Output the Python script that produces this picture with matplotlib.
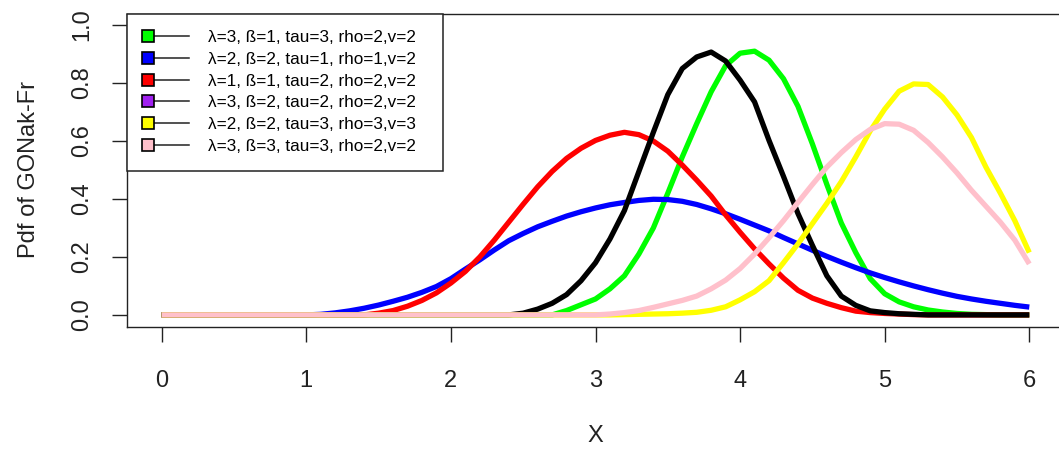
import matplotlib
matplotlib.use("Agg")
import matplotlib.pyplot as plt
import matplotlib.patches as mpatches
from matplotlib.legend_handler import HandlerBase
from matplotlib.lines import Line2D
import numpy as np

plt.rcParams['font.family'] = ['Liberation Sans', 'DejaVu Sans']

# pdf curves sampled every 0.1 on [0, 6]
x = np.linspace(0, 6, 61)

green_pdf = [0, 0, 0, 0, 0, 0, 0, 0, 0, 0,
             0, 0, 0, 0, 0, 0, 0, 0, 0, 0,
             0, 0, 0, 0, 0, 0, 0, 0, 0.015, 0.035,
             0.055, 0.09, 0.135, 0.21, 0.30, 0.42, 0.545, 0.66, 0.77, 0.86,
             0.903, 0.91, 0.879, 0.815, 0.72, 0.59, 0.45, 0.317, 0.215, 0.125,
             0.073, 0.045, 0.028, 0.017, 0.01, 0.005, 0.002, 0.001, 0, 0,
             0]
blue_pdf = [0, 0, 0, 0, 0, 0, 0, 0, 0, 0,
            0, 0.002, 0.007, 0.014, 0.023, 0.034, 0.047, 0.061, 0.078, 0.098,
            0.125, 0.158, 0.19, 0.224, 0.256, 0.281, 0.304, 0.323, 0.341, 0.356,
            0.369, 0.38, 0.388, 0.395, 0.399, 0.398, 0.392, 0.381, 0.366, 0.349,
            0.33, 0.31, 0.29, 0.267, 0.245, 0.223, 0.202, 0.182, 0.163, 0.145,
            0.129, 0.114, 0.1, 0.087, 0.075, 0.064, 0.055, 0.047, 0.04, 0.033,
            0.027]
red_pdf = [0, 0, 0, 0, 0, 0, 0, 0, 0, 0,
           0, 0, 0, 0, 0, 0.006, 0.015, 0.03, 0.05, 0.076,
           0.11, 0.15, 0.2, 0.258, 0.32, 0.382, 0.442, 0.495, 0.54, 0.575,
           0.602, 0.62, 0.63, 0.622, 0.6, 0.565, 0.517, 0.465, 0.41, 0.345,
           0.285, 0.228, 0.176, 0.127, 0.085, 0.058, 0.04, 0.025, 0.013, 0.008,
           0.005, 0.003, 0.001, 0, 0, 0, 0, 0, 0, 0,
           0]
black_pdf = [0, 0, 0, 0, 0, 0, 0, 0, 0, 0,
             0, 0, 0, 0, 0, 0, 0, 0, 0, 0,
             0, 0, 0, 0, 0, 0.006, 0.02, 0.04, 0.07, 0.118,
             0.18, 0.262, 0.36, 0.495, 0.63, 0.76, 0.85, 0.89, 0.907, 0.876,
             0.81, 0.735, 0.602, 0.478, 0.35, 0.24, 0.135, 0.065, 0.033, 0.014,
             0.008, 0.004, 0.002, 0, 0, 0, 0, 0, 0, 0,
             0]
yellow_pdf = [0, 0, 0, 0, 0, 0, 0, 0, 0, 0,
              0, 0, 0, 0, 0, 0, 0, 0, 0, 0,
              0, 0, 0, 0, 0, 0, 0, 0, 0, 0,
              0, 0, 0.001, 0.002, 0.003, 0.004, 0.006, 0.009, 0.016, 0.028,
              0.052, 0.08, 0.118, 0.18, 0.245, 0.315, 0.385, 0.46, 0.545, 0.635,
              0.71, 0.772, 0.797, 0.795, 0.752, 0.69, 0.612, 0.51, 0.42, 0.325,
              0.215]
pink_pdf = [0, 0, 0, 0, 0, 0, 0, 0, 0, 0,
            0, 0, 0, 0, 0, 0, 0, 0, 0, 0,
            0, 0, 0, 0, 0, 0, 0, 0, 0, 0,
            0, 0.003, 0.008, 0.015, 0.026, 0.038, 0.05, 0.065, 0.09, 0.12,
            0.16, 0.21, 0.266, 0.325, 0.388, 0.45, 0.51, 0.56, 0.605, 0.64,
            0.66, 0.658, 0.637, 0.595, 0.545, 0.49, 0.43, 0.375, 0.32, 0.258,
            0.176]

curves = [green_pdf, blue_pdf, red_pdf, black_pdf, yellow_pdf, pink_pdf]
curve_colors = ['#00FF00', '#0000FF', '#FF0000', 'black', '#FFFF00', '#FFC0CB']

legend_labels = ['λ=3, ß=1, tau=3, rho=2,v=2',
                 'λ=2, ß=2, tau=1, rho=1,v=2',
                 'λ=1, ß=1, tau=2, rho=2,v=2',
                 'λ=3, ß=2, tau=2, rho=2,v=2',
                 'λ=2, ß=2, tau=3, rho=3,v=3',
                 'λ=3, ß=3, tau=3, rho=2,v=2']
legend_colors = ['#00FF00', '#0000FF', '#FF0000', '#A020F0', '#FFFF00', '#FFC0CB']

x_ticks = [0, 1, 2, 3, 4, 5, 6]
y_ticks = [0.0, 0.2, 0.4, 0.6, 0.8, 1.0]


class SquareLineHandler(HandlerBase):
    # filled square at the left end of a short line, like R's legend(pch=22, lty=1)
    def create_artists(self, legend, orig_handle, xdescent, ydescent,
                       width, height, fontsize, trans):
        y = height / 2 - ydescent
        x0 = -xdescent + 2.9
        seg = Line2D([x0, width - xdescent], [y, y], color='#222222', lw=1.1,
                     transform=trans)
        box = Line2D([x0], [y], marker='s', ms=8.5, ls='none',
                     mfc=orig_handle.get_facecolor(), mec='black', mew=1.2,
                     transform=trans)
        return [seg, box]


fig = plt.figure(figsize=(10.59, 4.5), dpi=100)
ax = fig.add_axes([127 / 1059, 123.5 / 450, 937 / 1059, 313 / 450])

for ys, c in zip(curves, curve_colors):
    ax.plot(x, ys, color=c, lw=3.8, solid_capstyle='butt')

ax.set_xlim(-0.24, 6.24)
ax.set_ylim(-0.04, 1.04)
ax.set_xticks(x_ticks)
ax.set_xticklabels([str(t) for t in x_ticks])
ax.set_yticks(y_ticks)
ax.set_yticklabels([f'{t:.1f}' for t in y_ticks])

for sp in ax.spines.values():
    sp.set_color('#222222')
    sp.set_linewidth(1.0)

ax.tick_params(axis='both', direction='out', length=10.5, width=1.0,
               color='#222222', labelsize=17, labelcolor='#222222')
ax.tick_params(axis='x', pad=21)
ax.tick_params(axis='y', pad=14, labelrotation=90)
for lab in ax.get_yticklabels():
    lab.set_va('center')

ax.set_xlabel('X', fontsize=17, color='#222222')
ax.set_ylabel('Pdf of GONak-Fr', fontsize=17, color='#222222')
ax.xaxis.set_label_coords(0.5, -0.35)
ax.xaxis.label.set_va('center')
ax.yaxis.set_label_coords(-0.105, 0.5)
ax.yaxis.label.set_va('center')

handles = [mpatches.Patch(facecolor=c) for c in legend_colors]
leg = ax.legend(handles, legend_labels, loc='upper left',
                bbox_to_anchor=(0, 1, 316 / 937, 0), mode='expand',
                borderaxespad=0, borderpad=0.99, fontsize=12.3,
                labelspacing=0.39, handlelength=2.64, handletextpad=1.1,
                fancybox=False, framealpha=1,
                handler_map={mpatches.Patch: SquareLineHandler()})
leg.get_frame().set_edgecolor('#222222')
leg.get_frame().set_linewidth(1.1)

fig.savefig('out.png', dpi=100)
